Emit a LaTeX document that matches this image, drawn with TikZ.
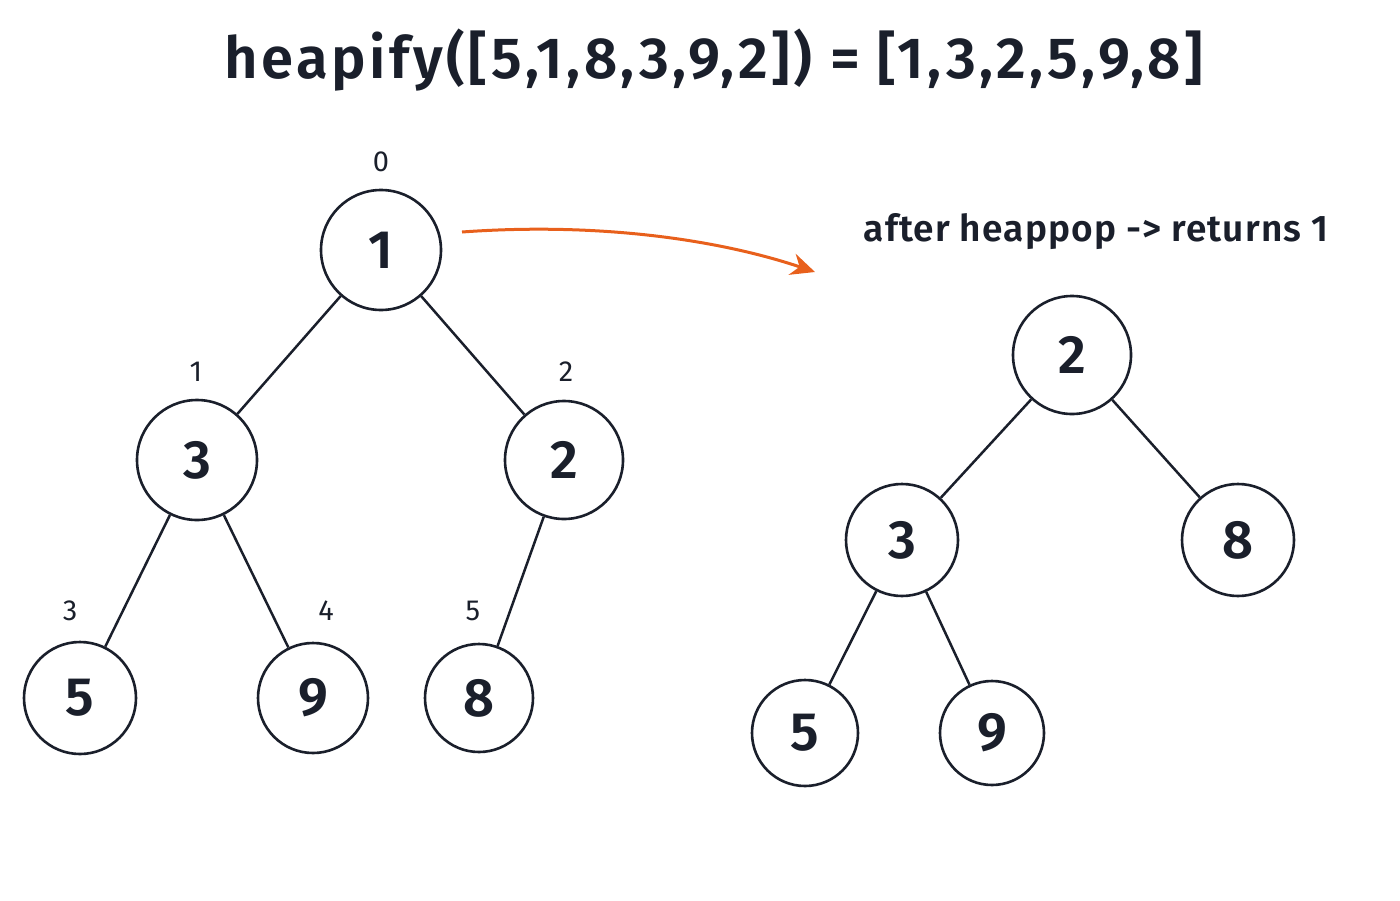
\documentclass[tikz,border=0pt]{standalone}
\usepackage{fontspec}
\setmainfont{Fira Sans}[BoldFont={Fira Sans SemiBold}]
\usetikzlibrary{arrows.meta}
\definecolor{ink}{HTML}{1A1F2B}
\definecolor{org}{HTML}{E8601C}
\begin{document}
\begin{tikzpicture}[x=1pt,y=-1pt,
  nd/.style={circle,draw=ink,line width=2.6pt,fill=white,text=ink,font=\fontsize{54}{58}\selectfont\bfseries,inner sep=0pt,minimum size=#1},
  idx/.style={text=ink,font=\fontsize{29}{32}\selectfont},
  ed/.style={draw=ink,line width=2.5pt}]
\useasboundingbox (0,0) rectangle (1400,900);
\node[text=ink,font=\fontsize{58}{64}\selectfont\bfseries\addfontfeatures{LetterSpace=6}] (title) at (714,60) {heapify([5,1,8,3,9,2])~=~[1,3,2,5,9,8]};
\node[text=ink,font=\fontsize{37}{42}\selectfont\bfseries\addfontfeatures{LetterSpace=3}] (after) at (1096,232) {after heappop -> returns 1};
% left tree
\node[nd=120pt] (a1) at (381,250) {1};
\node[nd=120pt] (a3) at (197,460) {3};
\node[nd=118pt] (a2) at (564,460) {2};
\node[nd=112pt] (a5) at (80,698) {5};
\node[nd=110pt] (a9) at (313,698) {9};
\node[nd=108pt] (a8) at (479,698) {8};
\draw[ed] (a1) -- (a3); \draw[ed] (a1) -- (a2);
\draw[ed] (a3) -- (a5); \draw[ed] (a3) -- (a9);
\draw[ed] (a2) -- (a8);
\node[idx] (i0) at (381,162) {0};
\node[idx] (i1) at (196,372) {1};
\node[idx] (i2) at (566,372) {2};
\node[idx] (i3) at (70,611) {3};
\node[idx] (i4) at (326,611) {4};
\node[idx] (i5) at (473,611) {5};
% right tree
\node[nd=118pt] (b2) at (1072,355) {2};
\node[nd=112pt] (b3) at (902,540) {3};
\node[nd=112pt] (b8) at (1238,540) {8};
\node[nd=106pt] (b5) at (805,733) {5};
\node[nd=104pt] (b9) at (992,733) {9};
\draw[ed] (b2) -- (b3); \draw[ed] (b2) -- (b8);
\draw[ed] (b3) -- (b5); \draw[ed] (b3) -- (b9);
% arrow
\coordinate (s) at (462,232);
\coordinate (e) at (815,272);
\draw[draw=org,line width=3pt,-{Stealth[length=24pt,width=22pt]}] (s) .. controls (600,222) and (720,240) .. (e);
\end{tikzpicture}
\end{document}
